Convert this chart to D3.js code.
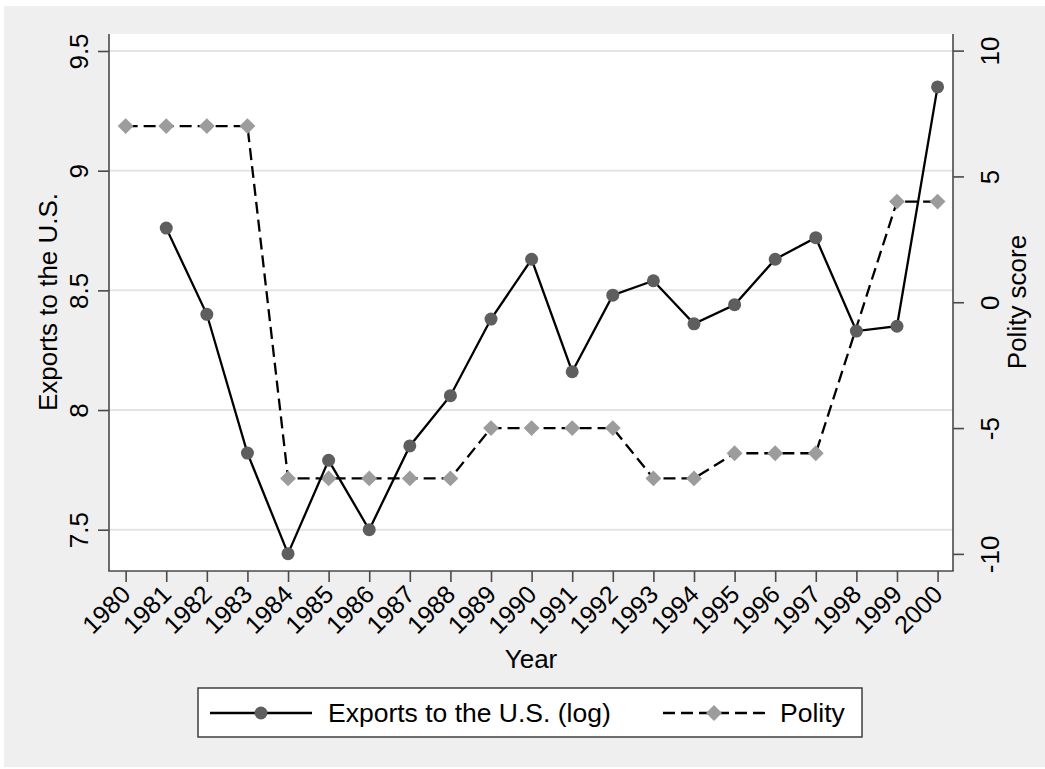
<!DOCTYPE html>
<html>
<head>
<meta charset="utf-8">
<script src="https://cdn.jsdelivr.net/npm/d3@7"></script>
<style>
  body { margin: 0; background: #ffffff; }
  svg text { font-family: "Liberation Sans", Arial, Helvetica, sans-serif; fill: #000; }
</style>
</head>
<body>
<svg id="chart" width="1045" height="769"></svg>
<script>
// Years on the horizontal axis
const years = [1980, 1981, 1982, 1983, 1984, 1985, 1986, 1987, 1988, 1989, 1990,
               1991, 1992, 1993, 1994, 1995, 1996, 1997, 1998, 1999, 2000];
// Log exports to the U.S. (no value for 1980)
const exportsLog = [null, 8.76, 8.40, 7.82, 7.40, 7.79, 7.50, 7.85, 8.06, 8.38, 8.63,
                    8.16, 8.48, 8.54, 8.36, 8.44, 8.63, 8.72, 8.33, 8.35, 9.35];
// Polity score (no value for 1998; the line is carried across the gap)
const polity = [7, 7, 7, 7, -7, -7, -7, -7, -7, -5, -5,
                -5, -5, -7, -7, -6, -6, -6, null, 4, 4];
// Axis ticks
const leftTicks = [7.5, 8, 8.5, 9, 9.5];
const rightTicks = [-10, -5, 0, 5, 10];
// Titles and legend labels
const leftTitle = "Exports to the U.S.";
const rightTitle = "Polity score";
const xTitle = "Year";
const seriesNames = ["Exports to the U.S. (log)", "Polity"];

const svg = d3.select("#chart");
const plot = { left: 109, right: 953, top: 34, bottom: 571 };
const axisColor = "#4a4a4a";

// Outer graph region
svg.append("rect").attr("x", 4).attr("y", 6).attr("width", 1041).attr("height", 761)
  .attr("fill", "#efefef");
// Plot region
svg.append("rect").attr("x", plot.left).attr("y", plot.top)
  .attr("width", plot.right - plot.left).attr("height", plot.bottom - plot.top)
  .attr("fill", "#ffffff");

const x = d3.scaleLinear().domain([1979.59, 2000.38]).range([plot.left, plot.right]);
const yL = d3.scaleLinear().domain([7.3275, 9.571]).range([plot.bottom, plot.top]);
const yR = d3.scaleLinear().domain([-10.68, 10.66]).range([plot.bottom, plot.top]);

// Horizontal grid lines at the left-axis ticks
svg.append("g").selectAll("line").data(leftTicks).join("line")
  .attr("x1", plot.left).attr("x2", plot.right)
  .attr("y1", d => yL(d)).attr("y2", d => yL(d))
  .attr("stroke", "#e4e4e4").attr("stroke-width", 2);

function styleAxis(g) {
  g.select(".domain").attr("stroke", axisColor).attr("stroke-width", 1.6);
  g.selectAll(".tick line").attr("stroke", axisColor).attr("stroke-width", 1.6);
  g.selectAll("text").attr("font-family", null).attr("fill", "#000");
}

// Left axis
const gL = svg.append("g").attr("transform", `translate(${plot.left},0)`)
  .call(d3.axisLeft(yL).tickValues(leftTicks).tickSize(11).tickSizeOuter(0)
        .tickFormat(d3.format("")));
styleAxis(gL);
gL.select(".domain").attr("d", `M0,${plot.top}V${plot.bottom}`);
gL.selectAll(".tick text")
  .attr("font-size", 26).attr("text-anchor", "middle")
  .attr("x", 0).attr("y", -21).attr("dy", 0)
  .attr("transform", "rotate(-90)");

// Right axis
const gR = svg.append("g").attr("transform", `translate(${plot.right},0)`)
  .call(d3.axisRight(yR).tickValues(rightTicks).tickSize(11).tickSizeOuter(0)
        .tickFormat(d3.format("d")));
styleAxis(gR);
gR.select(".domain").attr("d", `M0,${plot.top}V${plot.bottom}`);
gR.selectAll(".tick text")
  .attr("font-size", 26).attr("text-anchor", "middle")
  .attr("x", 0).attr("y", 46).attr("dy", 0)
  .attr("transform", "rotate(-90)")
  .text(d => d < 0 ? "-" + Math.abs(d) : String(d));

// Bottom axis
const gB = svg.append("g").attr("transform", `translate(0,${plot.bottom})`)
  .call(d3.axisBottom(x).tickValues(years).tickSize(11).tickSizeOuter(0)
        .tickFormat(d3.format("d")));
styleAxis(gB);
gB.select(".domain").attr("d", `M${plot.left - 0.8},0H${plot.right + 0.8}`);
gB.selectAll(".tick text")
  .attr("font-size", 25).attr("text-anchor", "end")
  .attr("x", 0).attr("y", 0).attr("dy", 0)
  .attr("transform", "translate(6,25) rotate(-45)");

// Axis titles
svg.append("text").attr("transform", "translate(57,302) rotate(-90)")
  .attr("text-anchor", "middle").attr("font-size", 26).text(leftTitle);
svg.append("text").attr("transform", "translate(1026,302) rotate(-90)")
  .attr("text-anchor", "middle").attr("font-size", 26).text(rightTitle);
svg.append("text").attr("x", (plot.left + plot.right) / 2).attr("y", 668)
  .attr("text-anchor", "middle").attr("font-size", 26).text(xTitle);

const diamond = d3.symbol().type(d3.symbolDiamond2).size(160);

// Polity series (dashed, grey diamonds)
const polityData = years.map((yr, i) => ({ yr, v: polity[i] })).filter(d => d.v != null);
svg.append("path").datum(polityData)
  .attr("fill", "none").attr("stroke", "#000").attr("stroke-width", 2.3)
  .attr("stroke-dasharray", "12,6")
  .attr("d", d3.line().x(d => x(d.yr)).y(d => yR(d.v)));
svg.append("g").selectAll("path").data(polityData).join("path")
  .attr("transform", d => `translate(${x(d.yr)},${yR(d.v)})`)
  .attr("d", diamond).attr("fill", "#9c9c9c");

// Exports series (solid, dark circles)
const exportData = years.map((yr, i) => ({ yr, v: exportsLog[i] })).filter(d => d.v != null);
svg.append("path").datum(exportData)
  .attr("fill", "none").attr("stroke", "#000").attr("stroke-width", 2.3)
  .attr("d", d3.line().x(d => x(d.yr)).y(d => yL(d.v)));
svg.append("g").selectAll("circle").data(exportData).join("circle")
  .attr("cx", d => x(d.yr)).attr("cy", d => yL(d.v)).attr("r", 6.5)
  .attr("fill", "#5e5e5e");

// Legend
const lg = svg.append("g");
lg.append("rect").attr("x", 198).attr("y", 688).attr("width", 664).attr("height", 49)
  .attr("fill", "#ffffff").attr("stroke", "#333").attr("stroke-width", 1.4);
const ly = 713;
lg.append("line").attr("x1", 210).attr("x2", 312).attr("y1", ly).attr("y2", ly)
  .attr("stroke", "#000").attr("stroke-width", 2.3);
lg.append("circle").attr("cx", 261).attr("cy", ly).attr("r", 6.5).attr("fill", "#5e5e5e");
lg.append("text").attr("x", 328).attr("y", ly + 9).attr("font-size", 26.5).text(seriesNames[0]);
lg.append("line").attr("x1", 663).attr("x2", 766).attr("y1", ly).attr("y2", ly)
  .attr("stroke", "#000").attr("stroke-width", 2.3).attr("stroke-dasharray", "12,6");
lg.append("path").attr("transform", `translate(714,${ly})`).attr("d", diamond).attr("fill", "#9c9c9c");
lg.append("text").attr("x", 780).attr("y", ly + 9).attr("font-size", 26.5).text(seriesNames[1]);
</script>
</body>
</html>
